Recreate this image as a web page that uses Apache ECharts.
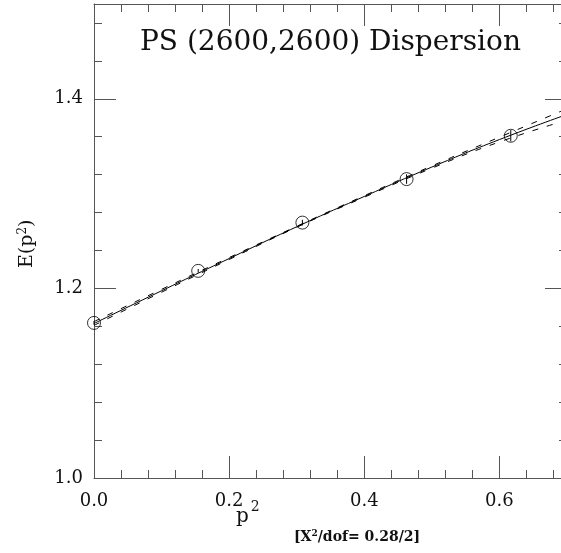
<!DOCTYPE html>
<html>
<head>
<meta charset="utf-8">
<script src="https://cdn.jsdelivr.net/npm/echarts@6/dist/echarts.min.js"></script>
<style>
  html, body { margin: 0; padding: 0; background: #fff; }
  #chart { width: 561px; height: 553px; }
</style>
</head>
<body>
<div id="chart"></div>
<script>
// measured points
var p2 = [0.0, 0.1542, 0.3084, 0.4626, 0.6168];
var energy = [1.1636, 1.2185, 1.2694, 1.3153, 1.3610];
var energyErr = [0.002, 0.002, 0.003, 0.005, 0.006];

// fit curve and its error band
var fitX = [0.0, 0.1, 0.2, 0.3, 0.4, 0.5, 0.6, 0.7];
var fitY = [1.1630, 1.1975, 1.2315, 1.2650, 1.2970, 1.3280, 1.3570, 1.3835];
var fitUpper = [1.1650, 1.1990, 1.2325, 1.2655, 1.2978, 1.3292, 1.3595, 1.3895];
var fitLower = [1.1610, 1.1960, 1.2305, 1.2645, 1.2962, 1.3268, 1.3545, 1.3775];

var xTicks = [0.0, 0.2, 0.4, 0.6];
var yTicks = [1.0, 1.2, 1.4];

var chartDom = document.getElementById('chart');
var myChart = echarts.init(chartDom, null, { renderer: 'canvas', devicePixelRatio: 1 });

var axisGray = '#555';
var serif = 'DejaVu Serif';

function zip(xs, ys) {
  return xs.map(function (x, i) { return [x, ys[i]]; });
}

function majorAxis(pos, showLabel, grid, min, max, interval) {
  return {
    type: 'value',
    gridIndex: grid,
    position: pos,
    min: min,
    max: max,
    interval: interval,
    axisLine: { show: true, onZero: false, lineStyle: { color: axisGray, width: 1 } },
    axisTick: { show: true, inside: true, length: 22, lineStyle: { color: axisGray, width: 1 } },
    axisLabel: {
      show: showLabel,
      showMaxLabel: false,
      color: '#111',
      fontFamily: serif,
      fontSize: 18,
      margin: (pos === 'bottom') ? 14 : 11,
      formatter: function (v) { return v.toFixed(1); }
    },
    splitLine: { show: false }
  };
}

function minorAxis(pos, grid, min, max) {
  return {
    type: 'value',
    gridIndex: grid,
    position: pos,
    min: min,
    max: max,
    interval: 0.04,
    axisLine: { show: false, onZero: false },
    axisTick: { show: true, inside: true, length: 8, lineStyle: { color: axisGray, width: 1 } },
    axisLabel: { show: false },
    splitLine: { show: false }
  };
}

// the frame runs a few pixels past the right edge of the picture
var gridBox = { left: 94, width: 473, top: 4, bottom: 75, outerBoundsMode: 'none', containLabel: false };

var option = {
  animation: false,
  backgroundColor: '#fff',
  grid: [
    Object.assign({}, gridBox),
    Object.assign({}, gridBox)
  ],
  xAxis: [
    majorAxis('bottom', true, 0, 0, 0.7, 0.2),
    majorAxis('top', false, 0, 0, 0.7, 0.2),
    minorAxis('bottom', 1, 0, 0.7),
    minorAxis('top', 1, 0, 0.7)
  ],
  yAxis: [
    majorAxis('left', true, 0, 1.0, 1.5, 0.2),
    majorAxis('right', false, 0, 1.0, 1.5, 0.2),
    minorAxis('left', 1, 1.0, 1.5),
    minorAxis('right', 1, 1.0, 1.5)
  ],
  graphic: [
    {
      type: 'text',
      left: 140, top: 29,
      style: { text: 'PS (2600,2600) Dispersion', font: '28px "DejaVu Serif"', fill: '#111' }
    },
    {
      type: 'text',
      x: 17, y: 268,
      rotation: Math.PI / 2,
      style: {
        text: '{a|E(p}{s|2}{a|)}',
        fill: '#111',
        rich: {
          a: { fontFamily: serif, fontSize: 19, fill: '#111' },
          s: { fontFamily: serif, fontSize: 12, fill: '#111', verticalAlign: 'top', padding: [0, 0, 8, 0] }
        }
      }
    },
    {
      type: 'text',
      left: 236, top: 500,
      style: {
        text: '{a|p}{s|2}',
        rich: {
          a: { fontFamily: serif, fontSize: 20, fill: '#111', padding: [10, 2, 0, 0] },
          s: { fontFamily: serif, fontSize: 14, fill: '#111', padding: [0, 0, 10, 0] }
        }
      }
    },
    {
      type: 'text',
      left: 294, top: 529,
      style: {
        text: '{a|[X}{s|2}{a|/dof= 0.28/2]}',
        rich: {
          a: { fontFamily: serif, fontSize: 14, fontWeight: 'bold', fill: '#111', padding: [4, 0, 0, 0] },
          s: { fontFamily: serif, fontSize: 9, fontWeight: 'bold', fill: '#111', padding: [0, 0, 4, 0] }
        }
      }
    }
  ],
  series: [
    {
      name: 'fit',
      type: 'line',
      xAxisIndex: 0, yAxisIndex: 0,
      data: zip(fitX, fitY),
      smooth: true,
      showSymbol: false,
      lineStyle: { color: '#000', width: 1 },
      silent: true
    },
    {
      name: 'upper',
      type: 'line',
      xAxisIndex: 0, yAxisIndex: 0,
      data: zip(fitX, fitUpper),
      smooth: true,
      showSymbol: false,
      lineStyle: { color: '#000', width: 1, type: [6, 9] },
      silent: true
    },
    {
      name: 'lower',
      type: 'line',
      xAxisIndex: 0, yAxisIndex: 0,
      data: zip(fitX, fitLower),
      smooth: true,
      showSymbol: false,
      lineStyle: { color: '#000', width: 1, type: [6, 9] },
      silent: true
    },
    {
      name: 'points',
      type: 'scatter',
      xAxisIndex: 0, yAxisIndex: 0,
      data: zip(p2, energy),
      symbol: 'circle',
      symbolSize: 13,
      itemStyle: { color: 'transparent', borderColor: '#000', borderWidth: 1 },
      z: 5
    },
    {
      name: 'errors',
      type: 'custom',
      xAxisIndex: 0, yAxisIndex: 0,
      data: p2.map(function (x, i) { return [x, energy[i], energyErr[i]]; }),
      renderItem: function (params, api) {
        var x = api.value(0), y = api.value(1), e = api.value(2);
        var lo = api.coord([x, y - e]);
        var hi = api.coord([x, y + e]);
        return {
          type: 'line',
          shape: { x1: lo[0], y1: lo[1], x2: hi[0], y2: hi[1] },
          style: { stroke: '#000', lineWidth: 1 }
        };
      },
      z: 6
    }
  ]
};

option && myChart.setOption(option);
</script>
</body>
</html>
